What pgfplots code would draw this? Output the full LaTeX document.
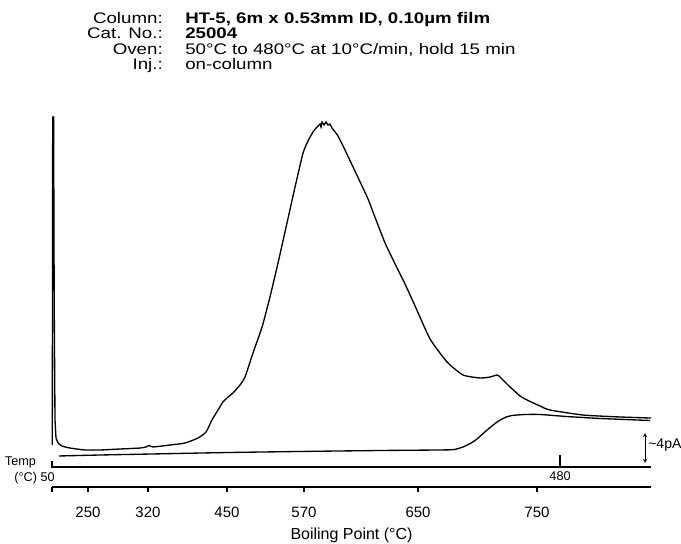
\documentclass[border=0pt]{standalone}
\usepackage{fontspec}
\setmainfont{Liberation Sans}
\newfontfamily\hdrfont{Liberation Sans}[FakeStretch=1.22]
\usepackage{pgfplots}
\usepackage{pgfplotstable}
\pgfplotsset{compat=1.18}

% retention time (min) vs detector signal (pA), sample run: solvent peak
\pgfplotstableread{
t s
0.025 2.93
0.059 46.67
0.135 46.67
0.186 22.27
0.254 6.27
0.339 3.87
0.508 3.20
}\solventrun

% sample run after the solvent peak
\pgfplotstableread{
t s
0.508 3.20
0.846 2.80
1.524 2.53
2.793 2.27
4.063 2.27
5.756 2.40
7.449 2.53
7.957 2.67
8.211 2.87
8.549 2.67
9.988 2.93
11.26 3.20
12.36 3.87
13.04 4.67
13.54 6.27
14.05 7.60
14.47 8.67
14.90 9.33
15.32 9.87
15.91 10.93
16.34 12.00
17.01 15.20
17.78 18.67
18.45 22.67
19.13 27.20
19.89 32.53
20.57 37.33
21.25 41.87
21.67 43.47
22.09 44.67
22.35 45.20
22.52 45.47
22.69 45.73
22.77 45.33
22.86 46.00
23.03 45.60
23.19 46.00
23.36 45.60
23.53 45.73
23.70 45.20
24.21 44.13
24.80 42.27
25.40 40.27
26.08 38.00
26.75 35.73
27.43 32.93
28.19 29.87
29.04 27.07
29.88 24.40
30.73 21.47
32.00 17.07
33.44 14.00
34.79 12.27
36.23 11.87
37.08 12.00
37.67 12.27
37.92 12.00
38.77 10.67
39.62 9.47
40.21 8.93
41.31 8.13
42.15 7.60
44.95 6.93
48.08 6.67
50.70 6.53
}\samplerun

% blank run (column bleed)
\pgfplotstableread{
t s
0.593 1.47
4.063 1.60
8.295 1.73
14.81 1.93
20.99 2.07
27.76 2.20
32.84 2.27
34.03 2.33
34.79 2.67
35.47 3.20
35.97 3.73
36.82 4.93
37.67 6.00
38.35 6.60
38.94 6.87
40.04 7.00
41.31 7.00
43.59 6.73
46.39 6.47
50.62 6.20
}\blankrun

\begin{document}
\begin{tikzpicture}
\useasboundingbox (0,0) rectangle (510.75pt,407.25pt);
\begin{axis}[
  at={(39pt,42pt)}, anchor=south west,
  scale only axis, width=449.25pt, height=277.5pt,
  xmin=0, xmax=50.7, ymin=-2.667, ymax=46.67,
  axis x line*=bottom, axis y line=none,
  x axis line style={line width=1.2pt},
  xtick={0,3.047,8.126,14.81,21.33,30.98,41.05},
  xticklabels={,250,320,450,570,650,750},
  tick align=outside, major tick length=4pt,
  tick style={black, line width=0.9pt},
  xticklabel style={font=\fontsize{11.25}{13}\selectfont, yshift=-7.5pt},
  xlabel={Boiling Point (°C)},
  xlabel style={font=\fontsize{12}{14}\selectfont, at={(axis description cs:0.5,-0.1297)}, anchor=center},
  clip=false,
]
\addplot[black, line width=1pt] table[x=t, y=s] {\solventrun};
\addplot[black, line width=1pt, smooth, tension=0.35] table[x=t, y=s] {\samplerun};
\addplot[black, line width=1pt, smooth, tension=0.35] table[x=t, y=s] {\blankrun};
% temperature scale
\draw[line width=1.2pt] (axis cs:0,0.8) -- (axis cs:0,0) -- (axis cs:50.7,0);
\draw[line width=1.6pt] (axis cs:43,0) -- (axis cs:43,1.6);
\node[anchor=north, inner sep=0pt, font=\fontsize{9.5}{11}\selectfont] at (axis cs:43,-0.55) {480};
\node[anchor=east, inner sep=0pt, font=\fontsize{9.5}{11}\selectfont] at (axis cs:0.25,-1.47) {(°C) 50};
\node[inner sep=0pt, font=\fontsize{9.5}{11}\selectfont] at (axis cs:-2.67,0.67) {Temp};
\draw[<->, >=stealth, line width=0.4pt] (axis cs:50.2,0.53) -- (axis cs:50.2,4.53);
\node[anchor=west, inner sep=0pt, font=\fontsize{10.5}{12}\selectfont] at (axis cs:50.45,2.93) {\textasciitilde 4pA};
\end{axis}
% method header
\begin{scope}[every node/.style={inner sep=0pt, font=\hdrfont\fontsize{11.5}{12}\selectfont}]
\node[anchor=base east] at (122.25pt,389.5pt) {Column:};
\node[anchor=base west, font=\hdrfont\fontsize{11.5}{12}\selectfont\bfseries] at (138.75pt,389.5pt) {HT-5, 6m x 0.53mm ID, 0.10µm film};
\node[anchor=base east] at (122.25pt,378pt) {Cat. No.:};
\node[anchor=base west, font=\hdrfont\fontsize{11.5}{12}\selectfont\bfseries] at (138.75pt,378pt) {25004};
\node[anchor=base east] at (122.25pt,366.5pt) {Oven:};
\node[anchor=base west] at (138.75pt,366.5pt) {50°C to 480°C at 10°C/min, hold 15 min};
\node[anchor=base east] at (122.25pt,355pt) {Inj.:};
\node[anchor=base west] at (138.75pt,355pt) {on-column};
\end{scope}
\end{tikzpicture}
\end{document}
